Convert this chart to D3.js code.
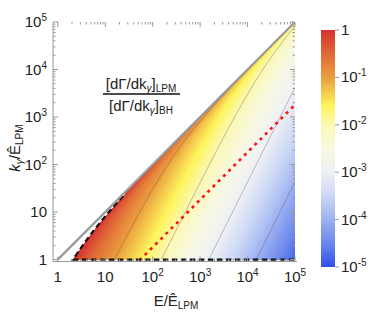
<!DOCTYPE html>
<html>
<head>
<meta charset="utf-8">
<script src="https://cdn.jsdelivr.net/npm/d3@7"></script>
<style>
  body { margin: 0; background: #fff; }
  text { font-family: "Liberation Sans", Arial, sans-serif; fill: #222; }
</style>
</head>
<body>
<div class="svg-container"></div>
<script>

/*** Data ***/

const decadeTicks = [1, 10, 100, 1e3, 1e4, 1e5]
const decadeExps = [null, null, "2", "3", "4", "5"]   // "1", "10", then 10^n

const colorTicks = [1, 1e-1, 1e-2, 1e-3, 1e-4, 1e-5]
const colorTickExps = [null, "-1", "-2", "-3", "-4", "-5"]

// log10 of the ratio -> colour of the colour bar
const colorStopLogs = [-5, -4.5, -4, -3.5, -3, -2.5, -2, -1.6, -1, -0.5, 0]
const colorStopHex = ["#2f4fe8", "#6c88ec", "#9db1f1", "#ccd8f6", "#eff0f6", "#f8f8e2",
  "#fbf8b2", "#fdf45c", "#eb9e3e", "#e06a38", "#d52f2f"]

// ratio ~ c * sqrt(k / (E (E - k)))
const ratioCoef = 1.52
const contourLevels = [1e-1, 1e-2, 1e-3, 1e-4]

// red dashed line, k = E / 55
const redLineE = [53, 1e5]
const redLineK = [53 / 55, 1e5 / 55]

/*** Layout ***/

const svgWidth = 380
const svgHeight = 312

const plotLeft = 53
const plotRight = 295
const plotTop = 22
const plotBottom = 261.5

let svg = d3.select(".svg-container")
  .append("svg")
  .attr("width", svgWidth)
  .attr("height", svgHeight)

let xScale = d3.scaleLog()
  .domain([Math.pow(10, -0.1), 1e5])
  .range([plotLeft, plotRight])

let yScale = d3.scaleLog()
  .domain([Math.pow(10, -0.04), 1e5])
  .range([plotBottom, plotTop])

let cScale = d3.scaleLinear()
  .domain(colorStopLogs)
  .range(colorStopHex)
  .clamp(true)

const ratio = (E, k) => ratioCoef * Math.sqrt(k / (E * (E - k)))

/* density fill, painted on a canvas and put in as an image */

let pw = Math.ceil(plotRight - plotLeft)
let ph = Math.ceil(plotBottom - plotTop)
let canvas = document.createElement("canvas")
canvas.width = pw
canvas.height = ph
let ctx = canvas.getContext("2d")
let img = ctx.createImageData(pw, ph)
for (let j = 0; j < ph; j++) {
  for (let i = 0; i < pw; i++) {
    let E = xScale.invert(plotLeft + i + 0.5)
    let k = yScale.invert(plotTop + j + 0.5)
    if (k < 1 || k >= E) continue
    let r = ratio(E, k)
    if (r > 1) continue
    let c = d3.rgb(cScale(Math.log10(r)))
    let p = (j * pw + i) * 4
    img.data[p] = c.r
    img.data[p + 1] = c.g
    img.data[p + 2] = c.b
    img.data[p + 3] = 255
  }
}
ctx.putImageData(img, 0, 0)

svg.append("defs").append("clipPath")
  .attr("id", "plot-clip")
  .append("rect")
  .attr("x", plotLeft)
  .attr("y", plotTop)
  .attr("width", plotRight - plotLeft)
  .attr("height", plotBottom - plotTop)

svg.append("image")
  .attr("x", plotLeft)
  .attr("y", plotTop)
  .attr("width", pw)
  .attr("height", ph)
  .attr("href", canvas.toDataURL())

let graph = svg.append("g").attr("clip-path", "url(#plot-clip)")

let line = d3.line()
  .x((d) => xScale(d[0]))
  .y((d) => yScale(d[1]))

// contour of ratio = R : k = a E^2 / (1 + a E), a = (R / c)^2
function contourPoints(R, eMax) {
  let a = (R / ratioCoef) * (R / ratioCoef)
  let e0 = (a + Math.sqrt(a * a + 4 * a)) / (2 * a)
  let lo = Math.log10(e0), hi = Math.log10(eMax)
  return d3.range(0, 201).map((i) => {
    let E = Math.pow(10, lo + (hi - lo) * i / 200)
    return [E, a * E * E / (1 + a * E)]
  })
}

graph.selectAll(".contour")
  .data(contourLevels)
  .enter()
  .append("path")
  .attr("class", "contour")
  .attr("d", (d) => line(contourPoints(d, 1e5)))
  .attr("fill", "none")
  .attr("stroke", "#555")
  .attr("stroke-opacity", 0.55)
  .attr("stroke-width", 0.7)

// red dashed line
graph.append("path")
  .attr("d", line(redLineE.map((e, i) => [e, redLineK[i]])))
  .attr("fill", "none")
  .attr("stroke", "#ff1010")
  .attr("stroke-width", 2.6)
  .attr("stroke-dasharray", "3,4.4")

// black dashed edge: ratio = 1 and k = 1
let edge = contourPoints(1, 24).reverse()
let e1 = edge[edge.length - 1][0]
edge.push([1e5, 1])
graph.append("path")
  .attr("d", line(edge))
  .attr("fill", "none")
  .attr("stroke", "#111")
  .attr("stroke-width", 2.2)
  .attr("stroke-dasharray", "5.5,3.5")

// gray diagonal k = E
graph.append("path")
  .attr("d", line([[1, 1], [1e5, 1e5]]))
  .attr("fill", "none")
  .attr("stroke", "#999")
  .attr("stroke-width", 2.2)

/* Axes: lines on left and bottom, ticks on all four sides */

let minorTicks = []
decadeTicks.slice(0, -1).forEach((d) => {
  for (let m = 2; m <= 9; m++) minorTicks.push(d * m)
})
let allX = decadeTicks.concat(minorTicks)

let axes = svg.append("g").attr("stroke", "#999").attr("stroke-width", 1)

axes.append("line")
  .attr("x1", plotLeft).attr("x2", plotLeft)
  .attr("y1", plotTop).attr("y2", plotBottom)
axes.append("line")
  .attr("x1", plotLeft).attr("x2", plotRight + 2)
  .attr("y1", plotBottom).attr("y2", plotBottom)

const tickLen = (d) => decadeTicks.includes(d) ? 5 : 2.5

allX.forEach((d) => {
  let x = xScale(d)
  axes.append("line").attr("x1", x).attr("x2", x)
    .attr("y1", plotBottom).attr("y2", plotBottom - tickLen(d))
  axes.append("line").attr("x1", x).attr("x2", x)
    .attr("y1", plotTop).attr("y2", plotTop + tickLen(d))
  let y = yScale(d)
  axes.append("line").attr("x1", plotLeft).attr("x2", plotLeft + tickLen(d))
    .attr("y1", y).attr("y2", y)
  axes.append("line").attr("x1", plotRight).attr("x2", plotRight - tickLen(d))
    .attr("y1", y).attr("y2", y)
})

function powerLabel(sel, exp, base) {
  if (exp === null) {
    sel.text(base)
  } else {
    sel.append("tspan").text("10")
    sel.append("tspan").attr("dy", -6).attr("font-size", 10).text(exp)
  }
}

decadeTicks.forEach((d, i) => {
  let t = svg.append("text")
    .attr("x", xScale(d))
    .attr("y", 282)
    .attr("text-anchor", "middle")
    .attr("font-size", 15)
  powerLabel(t, decadeExps[i], String(d))

  let u = svg.append("text")
    .attr("x", 47)
    .attr("y", yScale(d) + 5)
    .attr("text-anchor", "end")
    .attr("font-size", 15)
  powerLabel(u, decadeExps[i], String(d))
})

// axis titles
let xt = svg.append("text")
  .attr("x", 176)
  .attr("y", 306)
  .attr("text-anchor", "middle")
  .attr("font-size", 15)
xt.append("tspan").text("E/Ê")
xt.append("tspan").attr("dy", 3).attr("font-size", 10).text("LPM")

let yt = svg.append("text")
  .attr("transform", "translate(20, 148) rotate(-90)")
  .attr("text-anchor", "middle")
  .attr("font-size", 15)
yt.append("tspan").attr("font-style", "italic").text("k")
yt.append("tspan").attr("dy", 3).attr("font-size", 10).attr("font-style", "italic").text("γ")
yt.append("tspan").attr("dy", -3).text("/Ê")
yt.append("tspan").attr("dy", 3).attr("font-size", 10).text("LPM")

// formula inset
function bracketText(y, sub) {
  let t = svg.append("text")
    .attr("x", 141)
    .attr("y", y)
    .attr("text-anchor", "middle")
    .attr("font-size", 15)
  t.append("tspan").text("[dΓ/dk")
  t.append("tspan").attr("dy", 3).attr("font-size", 10).attr("font-style", "italic").text("γ")
  t.append("tspan").attr("dy", -3).text("]")
  t.append("tspan").attr("dy", 3).attr("font-size", 10).text(sub)
}
bracketText(89, "LPM")
bracketText(111, "BH")
svg.append("line")
  .attr("x1", 103).attr("x2", 180)
  .attr("y1", 94).attr("y2", 94)
  .attr("stroke", "#111")
  .attr("stroke-width", 1.3)

/* Colour bar */

const barLeft = 321
const barWidth = 14

let barScale = d3.scaleLog()
  .domain([1e-5, 1])
  .range([267, 30])

let grad = svg.select("defs").append("linearGradient")
  .attr("id", "bar-grad")
  .attr("x1", 0).attr("x2", 0)
  .attr("y1", 1).attr("y2", 0)
grad.selectAll("stop")
  .data(colorStopLogs)
  .enter()
  .append("stop")
  .attr("offset", (d) => (d + 5) / 5)
  .attr("stop-color", (d, i) => colorStopHex[i])

svg.append("rect")
  .attr("x", barLeft)
  .attr("y", barScale(1))
  .attr("width", barWidth)
  .attr("height", barScale(1e-5) - barScale(1))
  .attr("fill", "url(#bar-grad)")

colorTicks.forEach((d, i) => {
  let y = barScale(d)
  svg.append("line")
    .attr("x1", barLeft + barWidth).attr("x2", barLeft + barWidth + 4)
    .attr("y1", y).attr("y2", y)
    .attr("stroke", "#999")
  let t = svg.append("text")
    .attr("x", barLeft + barWidth + 6)
    .attr("y", y + 5)
    .attr("font-size", 15)
  powerLabel(t, colorTickExps[i], "1")
})
</script>
</body>
</html>
